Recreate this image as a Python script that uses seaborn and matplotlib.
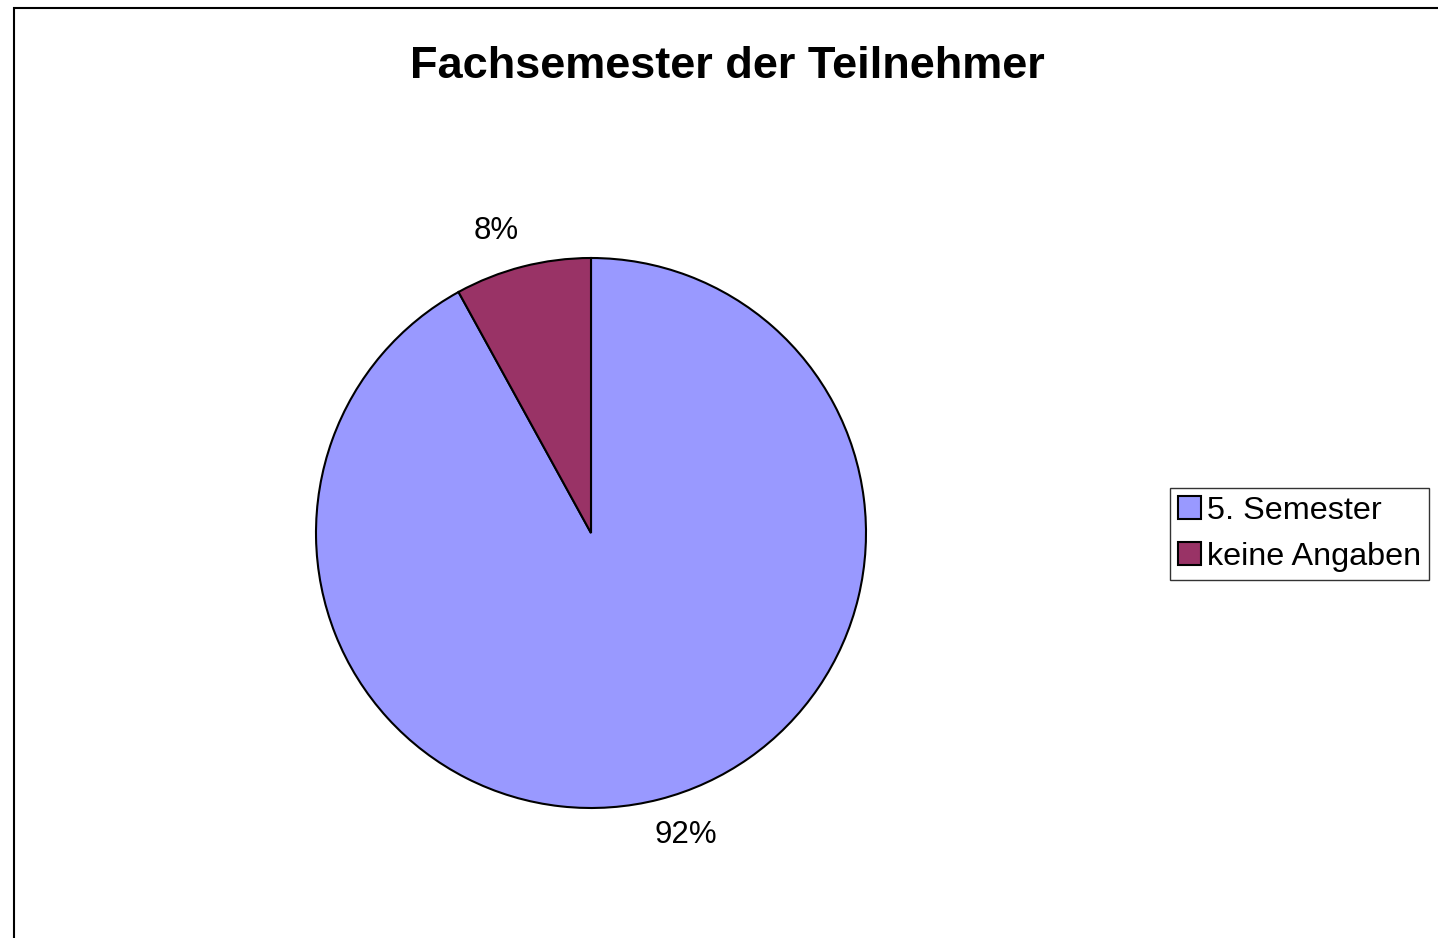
import numpy as np
import matplotlib
matplotlib.use("Agg")
from matplotlib import pyplot as plt
from matplotlib.patches import Rectangle
import seaborn as sns

# data
categories = ["5. Semester", "keine Angaben"]
shares = [92, 8]
colors = ["#9999FF", "#993366"]
title = "Fachsemester der Teilnehmer"

sns.set_style("white")
plt.rcParams['font.family'] = ['Liberation Sans', 'DejaVu Sans']
plt.rcParams['text.color'] = 'black'

W, H = 1438, 938
fig = plt.figure(figsize=(W / 100, H / 100), dpi=100)

# pie centre (591, 533), radius 275 px
cx, cy, r = 591, 533, 275
ax = fig.add_axes([(cx - r) / W, (H - cy - r) / H, 2 * r / W, 2 * r / H])

wedges, _ = ax.pie(
    shares, colors=colors, startangle=90, counterclock=False,
    wedgeprops=dict(edgecolor='black', linewidth=1.5))

# percentage labels outside the wedges (slightly rotated like Excel does)
for w, val in zip(wedges, shares):
    mid = np.deg2rad((w.theta1 + w.theta2) / 2 + 3)
    ax.text(1.15 * np.cos(mid), 1.15 * np.sin(mid), f"{val}%",
            ha='center', va='center', fontsize=22.5, color='black')

ax.set_xlim(-1, 1)
ax.set_ylim(-1, 1)
ax.set_aspect('equal')
ax.axis('off')

fig.suptitle(title, fontsize=32.5, fontweight='bold', color='black',
             x=727 / W, y=1 - 66 / H, va='center')

leg = fig.legend(wedges, categories, loc='center left',
                 bbox_to_anchor=(1170 / W, 1 - 534 / H),
                 fontsize=23.3, frameon=True, fancybox=False,
                 handlelength=0.7, handleheight=0.7, handletextpad=0.2,
                 borderpad=0.25, labelspacing=0.5, borderaxespad=0)
leg.get_frame().set_edgecolor('black')
leg.get_frame().set_linewidth(1.0)
for t in leg.get_texts():
    t.set_color('black')
for h in leg.legend_handles:
    h.set_linewidth(1.5)

# chart border
fig.patches.append(Rectangle((13.5 / W, -0.05), 1.2, 1.05 - 8.5 / H,
                             transform=fig.transFigure, fill=False,
                             edgecolor='black', linewidth=1.5))

fig.savefig("out.png", dpi=100)
